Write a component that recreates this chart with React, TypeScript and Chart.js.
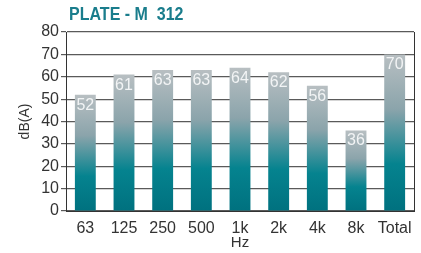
import React, { useEffect, useRef } from "react";
import { Chart, registerables } from "chart.js";

Chart.register(...registerables);

const categories = ["63", "125", "250", "500", "1k", "2k", "4k", "8k", "Total"];
const values = [52, 61, 63, 63, 64, 62, 56, 36, 70];
const titleText = "PLATE - M  312";
const yTitle = "dB(A)";
const xTitle = "Hz";
const yTicks = [0, 10, 20, 30, 40, 50, 60, 70, 80];

const FONT = "'Liberation Sans', Arial, sans-serif";

const overlayPlugin = {
  id: "overlay",
  afterDatasetsDraw(chart: any) {
    const ctx = chart.ctx;
    const area = chart.chartArea;
    ctx.save();
    // right border
    ctx.strokeStyle = "#333";
    ctx.lineWidth = 1;
    ctx.beginPath();
    ctx.moveTo(Math.round(area.right) + 0.5, area.top);
    ctx.lineTo(Math.round(area.right) + 0.5, area.bottom);
    ctx.stroke();
    // value labels
    const meta = chart.getDatasetMeta(0);
    ctx.fillStyle = "#f2f4f5";
    ctx.font = `16px ${FONT}`;
    ctx.textAlign = "center";
    ctx.textBaseline = "alphabetic";
    meta.data.forEach((bar: any, i: number) => {
      ctx.fillText(String(values[i]), bar.x, bar.y + 15);
    });
    // title
    ctx.fillStyle = "#1a7d8c";
    ctx.font = `bold 18px ${FONT}`;
    ctx.textAlign = "left";
    ctx.textBaseline = "middle";
    ctx.translate(area.left + 3, 15);
    ctx.scale(0.89, 1);
    ctx.fillText(titleText, 0, 0);
    ctx.restore();
  },
};

export default function App() {
  const ref = useRef<HTMLCanvasElement>(null);
  useEffect(() => {
    document.body.style.margin = "0";
    const canvas = ref.current!;
    const chart = new Chart(canvas, {
      type: "bar",
      data: {
        labels: categories,
        datasets: [
          {
            data: values,
            barPercentage: 0.9,
            categoryPercentage: 0.6,
            backgroundColor: (c: any) => {
              const ch = c.chart;
              const ys = ch.scales && ch.scales.y;
              if (!ys || c.raw == null) return "#00838f";
              const top = ys.getPixelForValue(c.raw);
              const bottom = ys.getPixelForValue(0);
              if (!isFinite(top) || !isFinite(bottom) || top === bottom) return "#00838f";
              const g = ch.ctx.createLinearGradient(0, top, 0, bottom);
              g.addColorStop(0, "#b8bfc2");
              g.addColorStop(0.35, "#8ba4ab");
              g.addColorStop(0.7, "#05838f");
              g.addColorStop(1, "#00717f");
              return g;
            },
          },
        ],
      },
      options: {
        animation: false,
        responsive: false,
        layout: { padding: { top: 32, right: 7, left: 0, bottom: 0 } },
        plugins: {
          legend: { display: false },
          title: { display: false },
          tooltip: { enabled: false },
        },
        scales: {
          x: {
            grid: { display: false },
            border: { display: true, color: "#333", width: 1 },
            ticks: {
              color: "#333",
              font: { family: FONT, size: 16 },
              padding: 0,
              maxRotation: 0,
              minRotation: 0,
              autoSkip: false,
            },
            title: {
              display: true,
              text: xTitle,
              color: "#333",
              font: { family: FONT, size: 15 },
              padding: { top: 0, bottom: 1 },
            },
            afterFit: (s: any) => {
              s.height = 42;
            },
          },
          y: {
            min: 0,
            max: 80,
            afterBuildTicks: (s: any) => {
              s.ticks = yTicks.map((v) => ({ value: v }));
            },
            grid: { color: "#5a5a5a", lineWidth: 1.2, tickLength: 5 },
            border: { display: true, color: "#333", width: 1 },
            ticks: { color: "#333", font: { family: FONT, size: 16 }, padding: 2 },
            title: {
              display: true,
              text: yTitle,
              color: "#333",
              font: { family: FONT, size: 14 },
              padding: { top: 17, bottom: 0 },
            },
            afterFit: (s: any) => {
              s.width = 66;
            },
          },
        },
      },
      plugins: [overlayPlugin],
    });
    return () => chart.destroy();
  }, []);
  return <canvas ref={ref} width={421} height={253} style={{ display: "block" }} />;
}
